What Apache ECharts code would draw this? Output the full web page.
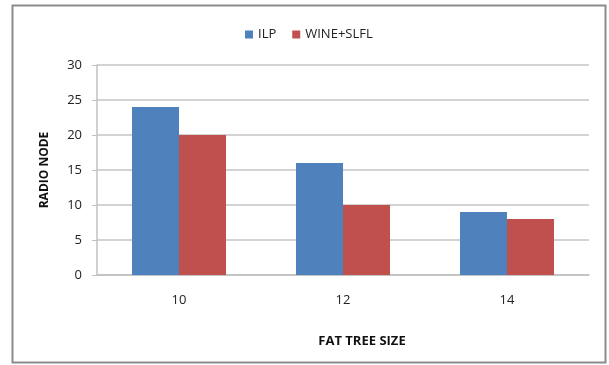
<!DOCTYPE html>
<html>
<head>
<meta charset="utf-8">
<script src="https://cdn.jsdelivr.net/npm/echarts@6/dist/echarts.min.js"></script>
<style>
  html, body { margin: 0; padding: 0; background: #fff; }
  #chart { width: 609px; height: 365px; }
</style>
</head>
<body>
<div id="chart"></div>
<script>
// Fat-tree size vs. number of radio nodes
const categories = ['10', '12', '14'];
const ilpValues = [24, 16, 9];
const wineSlflValues = [20, 10, 8];
const yTicks = [0, 5, 10, 15, 20, 25, 30];

const FONT = '"Open Sans", "Noto Sans", sans-serif';

const chart = echarts.init(document.getElementById('chart'), null, { renderer: 'canvas' });
chart.setOption({
  animation: false,
  backgroundColor: '#ffffff',
  graphic: [{
    type: 'rect',
    shape: { x: 12.5, y: 5.5, width: 593, height: 357 },
    style: { fill: 'none', stroke: '#8c8c8c', lineWidth: 2 },
    silent: true
  }],
  legend: {
    top: 23,
    left: 240,
    itemWidth: 8,
    itemHeight: 8,
    itemGap: 16,
    icon: 'rect',
    textStyle: { fontFamily: FONT, fontSize: 13, color: '#222' },
    data: ['ILP', 'WINE+SLFL']
  },
  grid: { left: 97, right: 20, top: 65, bottom: 90, containLabel: false },
  xAxis: {
    type: 'category',
    data: categories,
    name: 'FAT TREE SIZE',
    nameLocation: 'middle',
    nameGap: 60,
    nameTextStyle: { fontFamily: FONT, fontSize: 13, fontWeight: 'bold', color: '#111', padding: [0, 0, 0, 38] },
    axisLine: { lineStyle: { color: '#c0c0c0', width: 1.5 } },
    axisTick: { show: false },
    axisLabel: { fontFamily: FONT, fontSize: 13, color: '#222', margin: 19 }
  },
  yAxis: {
    type: 'value',
    min: yTicks[0],
    max: yTicks[yTicks.length - 1],
    interval: 5,
    name: 'RADIO NODE',
    nameLocation: 'middle',
    nameGap: 46,
    nameRotate: 90,
    nameTextStyle: { fontFamily: FONT, fontSize: 12, fontWeight: 'bold', color: '#111' },
    axisLine: { show: true, lineStyle: { color: '#c0c0c0', width: 1.5 } },
    axisTick: { show: true, length: 5, lineStyle: { color: '#c0c0c0' } },
    axisLabel: { fontFamily: FONT, fontSize: 13, color: '#222', margin: 15 },
    splitLine: { lineStyle: { color: '#c4c4c4', width: 1.5 } }
  },
  series: [
    {
      name: 'ILP',
      type: 'bar',
      data: ilpValues,
      barWidth: 47,
      barGap: '0%',
      itemStyle: { color: '#4f81bd' }
    },
    {
      name: 'WINE+SLFL',
      type: 'bar',
      data: wineSlflValues,
      barWidth: 47,
      barGap: '0%',
      itemStyle: { color: '#c0504d' }
    }
  ]
});
</script>
</body>
</html>
